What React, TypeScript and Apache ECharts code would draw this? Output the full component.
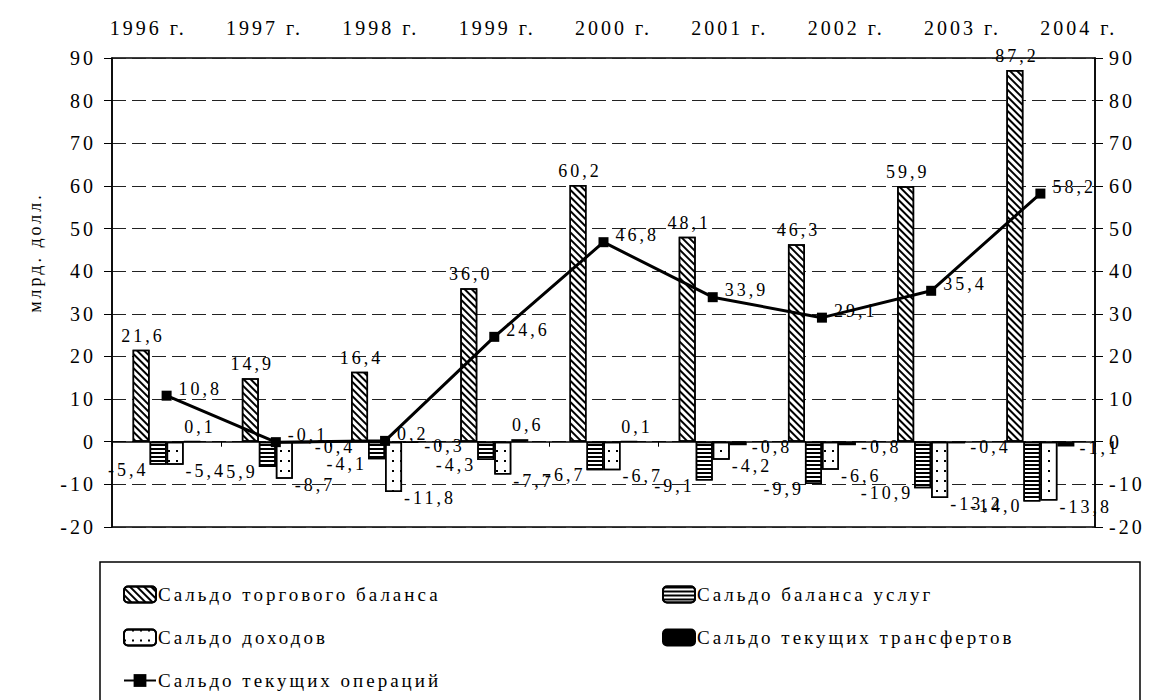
import React, { useEffect, useRef } from "react";
import * as echarts from "echarts";

const categories = ["1996 г.", "1997 г.", "1998 г.", "1999 г.", "2000 г.", "2001 г.", "2002 г.", "2003 г.", "2004 г."];
const tradeBalance = [21.6, 14.9, 16.4, 36.0, 60.2, 48.1, 46.3, 59.9, 87.2];
const servicesBalance = [-5.4, -5.9, -4.1, -4.3, -6.7, -9.1, -9.9, -10.9, -14.0];
const incomeBalance = [-5.4, -8.7, -11.8, -7.7, -6.7, -4.2, -6.6, -13.2, -13.8];
const transfersBalance = [0.1, -0.4, -0.3, 0.6, 0.1, -0.8, -0.8, -0.4, -1.1];
const currentAccount = [10.8, -0.1, 0.2, 24.6, 46.8, 33.9, 29.1, 35.4, 58.2];

const seriesNames = [
  "Сальдо торгового баланса",
  "Сальдо баланса услуг",
  "Сальдо доходов",
  "Сальдо текущих трансфертов",
  "Сальдо текущих операций",
];
const yAxisName = "млрд. долл.";
const yMin = -20;
const yMax = 90;
const yInterval = 10;

const FONT = "'Liberation Serif', 'Times New Roman', serif";
const fmt = (v: number) => v.toFixed(1).replace(".", ",");

export default function App() {
  const ref = useRef<HTMLDivElement>(null);
  useEffect(() => {
    if (!ref.current) return;
    const chart = echarts.init(ref.current, null, { renderer: "svg" });
    const labelBase = { show: true, color: "#000", fontFamily: FONT, fontSize: 18 };
    const barBorder = { borderColor: "#000", borderWidth: 1.5 };
    const legendBase = {
      orient: "vertical",
      itemGap: 24,
      itemWidth: 32,
      itemHeight: 16,
      height: 120,
      textStyle: { color: "#000", fontFamily: FONT, fontSize: 19, padding: [0, 0, 0, -3] },
    };
    const option: any = {
      animation: false,
      backgroundColor: "#fff",
      textStyle: { fontFamily: FONT, color: "#000" },
      grid: [
        {
          left: 112,
          right: 72,
          top: 58,
          bottom: 173,
          show: true,
          borderColor: "#000",
          borderWidth: 1.5,
          containLabel: false,
        },
        { left: 90, right: 30, top: 58, height: 1, show: false },
      ],
      xAxis: [
        {
          type: "category",
          data: categories,
          gridIndex: 0,
          position: "bottom",
          axisLine: { show: false },
          axisTick: { show: false },
          axisLabel: { show: false },
          splitLine: { show: false },
        },
        {
          type: "value",
          gridIndex: 0,
          position: "top",
          min: 0,
          max: 18,
          interval: 1,
          axisLine: { show: true, lineStyle: { color: "#000", width: 1.5 } },
          axisTick: { show: true, inside: true, length: 5, lineStyle: { color: "#000" } },
          axisLabel: { show: false },
          splitLine: { show: false },
        },
        {
          type: "category",
          data: categories,
          gridIndex: 1,
          position: "top",
          axisLine: { show: false },
          axisTick: { show: false },
          axisLabel: { color: "#000", fontFamily: FONT, fontSize: 20, margin: 20 },
          splitLine: { show: false },
        },
      ],
      yAxis: [
        {
          type: "value",
          gridIndex: 0,
          min: yMin,
          max: yMax,
          interval: yInterval,
          position: "left",
          name: yAxisName,
          nameLocation: "middle",
          nameGap: 68,
          nameRotate: 90,
          nameTextStyle: { color: "#000", fontFamily: FONT, fontSize: 18, padding: [0, 0, 0, 80] },
          axisLine: { show: true, lineStyle: { color: "#000", width: 1.5 } },
          axisTick: { show: true, length: 8, lineStyle: { color: "#000" } },
          axisLabel: { color: "#000", fontFamily: FONT, fontSize: 20, margin: 16 },
          splitLine: { show: true, lineStyle: { color: "#222", type: [14, 6], width: 1 } },
        },
        {
          type: "value",
          gridIndex: 0,
          min: yMin,
          max: yMax,
          interval: yInterval,
          position: "right",
          axisLine: { show: true, lineStyle: { color: "#000", width: 1.5 } },
          axisTick: { show: true, length: 8, lineStyle: { color: "#000" } },
          axisLabel: { color: "#000", fontFamily: FONT, fontSize: 20, margin: 14 },
          splitLine: { show: false },
        },
        {
          type: "value",
          gridIndex: 1,
          show: false,
        },
      ],
      legend: [
        {
          ...legendBase,
          left: 118,
          top: 580,
          data: [seriesNames[0], seriesNames[2], seriesNames[4]],
        },
        {
          ...legendBase,
          left: 657,
          top: 580,
          data: [seriesNames[1], seriesNames[3]],
        },
      ],
      graphic: [
        {
          type: "rect",
          shape: { x: 100, y: 562, width: 1040, height: 170 },
          style: { fill: "none", stroke: "#000", lineWidth: 1.5 },
          silent: true,
        },
      ],
      series: [
        {
          name: seriesNames[0],
          type: "bar",
          xAxisIndex: 0,
          yAxisIndex: 0,
          data: tradeBalance,
          barWidth: 17,
          barGap: "0%",
          itemStyle: {
            color: "#fff",
            ...barBorder,
            decal: {
              symbol: "rect",
              symbolSize: 1,
              color: "#000",
              dashArrayX: [1, 0],
              dashArrayY: [2, 2.5],
              rotation: Math.PI / 4,
            },
          },
          label: { ...labelBase, position: "top", offset: [2, 0], formatter: (p: any) => fmt(p.value) },
        },
        {
          name: seriesNames[1],
          type: "bar",
          xAxisIndex: 0,
          yAxisIndex: 0,
          data: servicesBalance,
          barWidth: 17,
          barGap: "0%",
          itemStyle: {
            color: "#fff",
            ...barBorder,
            decal: {
              symbol: "rect",
              symbolSize: 1,
              color: "#000",
              dashArrayX: [1, 0],
              dashArrayY: [2, 1.5],
              rotation: 0,
            },
          },
          label: {
            ...labelBase,
            position: ["0%", "100%"],
            align: "right",
            verticalAlign: "middle",
            offset: [-1, 5],
            formatter: (p: any) => fmt(p.value),
          },
        },
        {
          name: seriesNames[2],
          type: "bar",
          xAxisIndex: 0,
          yAxisIndex: 0,
          data: incomeBalance,
          barWidth: 17,
          barGap: "0%",
          itemStyle: {
            color: "#fff",
            ...barBorder,
            decal: {
              symbol: "rect",
              symbolSize: 1,
              color: "#000",
              dashArrayX: [1.5, 6],
              dashArrayY: [1.5, 8],
              rotation: 0,
            },
          },
          label: {
            ...labelBase,
            position: ["100%", "100%"],
            align: "left",
            verticalAlign: "middle",
            offset: [2, 6],
            formatter: (p: any) => fmt(p.value),
          },
        },
        {
          name: seriesNames[3],
          type: "bar",
          xAxisIndex: 0,
          yAxisIndex: 0,
          data: transfersBalance.map((v) => ({
            value: v,
            label: v >= 0
              ? { position: "top", offset: [8, 0] }
              : { position: "right", offset: [0, 4] },
          })),
          barWidth: 17,
          barGap: "0%",
          itemStyle: { color: "#000", borderColor: "#000", borderWidth: 1.5 },
          label: { ...labelBase, formatter: (p: any) => fmt(p.value) },
        },
        {
          name: seriesNames[4],
          type: "line",
          xAxisIndex: 0,
          yAxisIndex: 0,
          data: currentAccount,
          symbol: "rect",
          symbolSize: 10,
          z: 5,
          lineStyle: { color: "#000", width: 3 },
          itemStyle: { color: "#000" },
          label: {
            ...labelBase,
            position: "right",
            offset: [2, -7],
            formatter: (p: any) => fmt(p.value),
          },
        },
      ],
    };
    const spaceTexts = () => {
      if (!ref.current) return;
      ref.current.querySelectorAll("text").forEach((t) => {
        t.setAttribute("letter-spacing", "3");
      });
    };
    chart.on("finished", spaceTexts);
    chart.setOption(option);
    const timer = window.setTimeout(spaceTexts, 50);
    return () => {
      window.clearTimeout(timer);
      chart.dispose();
    };
  }, []);
  return (
    <div
      ref={ref}
      style={{ position: "fixed", left: 0, top: 0, width: 1167, height: 700, background: "#fff" }}
    />
  );
}
